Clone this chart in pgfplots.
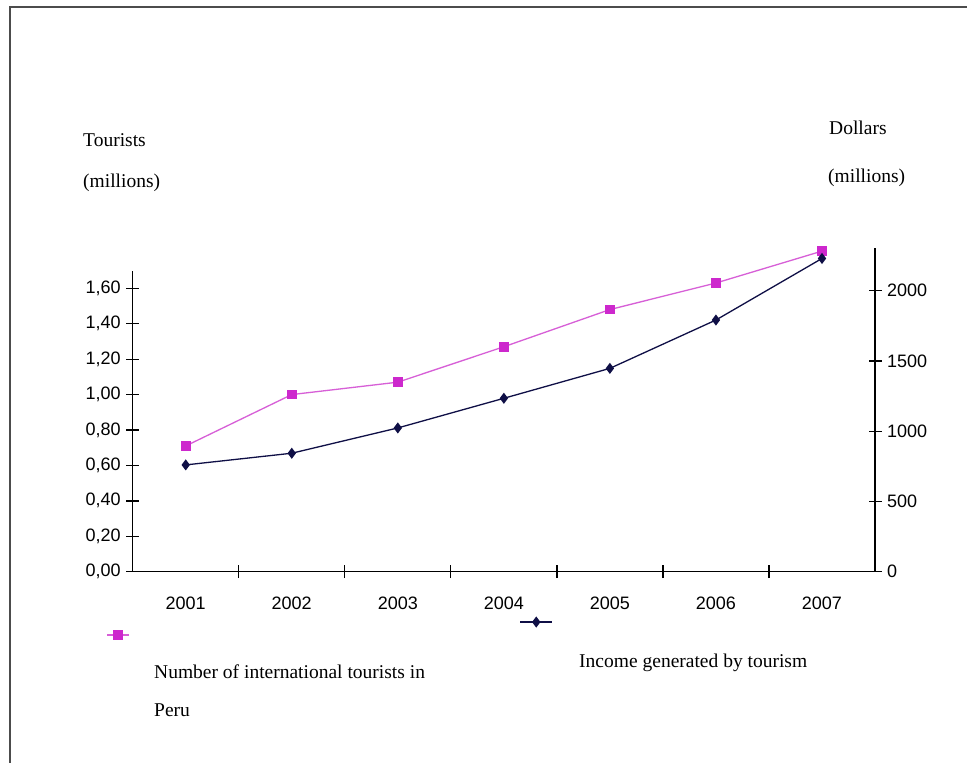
\documentclass[border=0pt]{standalone}
\usepackage{fontspec}
\setmainfont{Liberation Serif}
\newfontfamily\arialf{Liberation Sans}
\usepackage{pgfplots}
\pgfplotsset{compat=1.18}

\definecolor{tourpink}{RGB}{205,40,205}
\definecolor{tourline}{RGB}{215,95,215}
\definecolor{incnavy}{RGB}{15,15,70}

% shared look of both axes
\pgfplotsset{
  peru/.style={
    scale only axis, width=742.3pt,
    xmin=2000.5, xmax=2007.5, ymin=0,
    clip=false,
    tick align=center,
    major tick length=13pt, minor tick length=13pt,
    every tick/.style={line width=1.3pt, black},
    ticklabel style={font=\arialf\fontsize{18}{20}\selectfont},
  },
  plainline/.style={axis line style={-, line width=1.3pt, black}},
}

\begin{document}
\begin{tikzpicture}
\useasboundingbox (0pt,0pt) rectangle (967pt,763pt);
\fill[white] (0pt,0pt) rectangle (967pt,763pt);
\draw[line width=2pt, black!70] (10pt,0pt) -- (10pt,755.5pt) -- (967pt,755.5pt);

% axis titles
\node[anchor=west, font=\fontsize{19.5}{22}\selectfont, inner sep=0pt] at (83pt,623pt) {Tourists};
\node[anchor=west, font=\fontsize{19.5}{22}\selectfont, inner sep=0pt] at (83pt,580pt) {(millions)};
\node[anchor=west, font=\fontsize{19.5}{22}\selectfont, inner sep=0pt] at (829pt,635pt) {Dollars};
\node[anchor=west, font=\fontsize{19.5}{22}\selectfont, inner sep=0pt] at (828pt,585pt) {(millions)};

% tourists, left scale
\begin{axis}[peru,
  at={(132.7pt,191.3pt)}, anchor=south west,
  height=301.1pt, ymax=1.7,
  axis x line=bottom, axis y line=left, plainline,
  xtick={2001,...,2007},
  xticklabels={2001,2002,2003,2004,2005,2006,2007},
  major x tick style={draw=none},
  minor xtick={2001.5,2002.5,2003.5,2004.5,2005.5,2006.5},
  ytick={0,0.2,0.4,0.6,0.8,1.0,1.2,1.4,1.6},
  yticklabels={{0,00},{0,20},{0,40},{0,60},{0,80},{1,00},{1,20},{1,40},{1,60}},
  xticklabel style={yshift=-15pt},
  yticklabel style={xshift=-2pt},
  legend style={draw=none, fill=none, at={(0.026,-0.301)}, anchor=north west,
    cells={align=left, anchor=west}, inner sep=0pt, column sep=0pt,
    font=\fontsize{19.5}{38}\selectfont},
  legend image code/.code={%
    \draw[overlay, mark repeat=2, mark phase=2, #1]
      plot coordinates {(-45pt,56pt) (-34pt,56pt) (-23pt,56pt)};},
]
\addplot[tourline, line width=1.3pt, mark=square*,
  mark options={solid, fill=tourpink, draw=tourpink}, mark size=4.2pt]
  coordinates {(2001,0.71) (2002,1.00) (2003,1.07) (2004,1.27)
               (2005,1.48) (2006,1.63) (2007,1.81)};
\addlegendentry{Number of international tourists in\\Peru}
\end{axis}

% income, right scale
\begin{axis}[peru,
  at={(132.7pt,191.3pt)}, anchor=south west,
  height=323.2pt, ymax=2300,
  axis x line=none, axis y line=right, plainline,
  ytick={0,500,1000,1500,2000},
  yticklabels={0,500,1000,1500,2000},
  yticklabel style={xshift=2pt},
  legend style={draw=none, fill=none, at={(0.5986,-0.2463)}, anchor=north west,
    cells={align=left, anchor=west}, inner sep=0pt, column sep=0pt,
    font=\fontsize{19.5}{38}\selectfont},
  legend image code/.code={%
    \draw[overlay, mark repeat=2, mark phase=2, #1]
      plot coordinates {(-57pt,39pt) (-41pt,39pt) (-25pt,39pt)};},
]
\addplot[incnavy, line width=1.3pt, mark=diamond*,
  mark options={solid, fill=incnavy}, mark size=4.5pt]
  coordinates {(2001,760) (2002,843) (2003,1023) (2004,1234)
               (2005,1447) (2006,1791) (2007,2229)};
\addlegendentry{Income generated by tourism}
\end{axis}
\end{tikzpicture}
\end{document}
